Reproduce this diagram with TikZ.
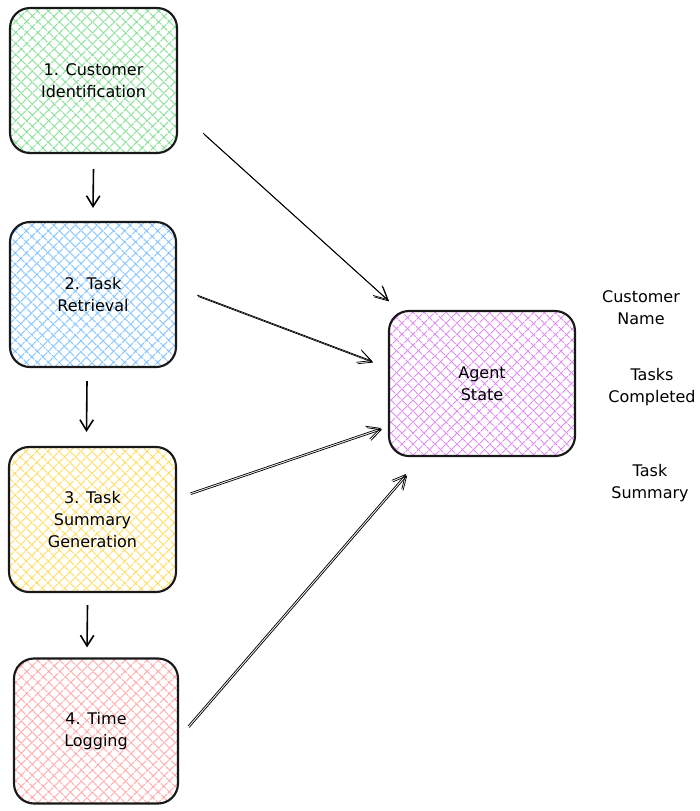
\documentclass[tikz,border=0pt]{standalone}
\usepackage{fontspec}
\setmainfont{DejaVu Sans}
\usetikzlibrary{patterns.meta,arrows.meta}
\definecolor{hgreen}{HTML}{7ADB8A}
\definecolor{hblue}{HTML}{74BCFF}
\definecolor{hyellow}{HTML}{FFD84D}
\definecolor{hpink}{HTML}{FF9E9E}
\definecolor{hpurple}{HTML}{E08CF5}
\tikzset{
  hatchbox/.style={
    rounded corners=15pt, line width=1.6pt, draw=black!90,
    minimum width=#1, minimum height=108.75pt,
    align=center, font=\fontsize{12pt}{16.5pt}\selectfont, inner sep=0pt},
  hatch/.style={
    preaction={pattern={Lines[angle=45,distance=6.5pt,line width=1pt]}, pattern color=#1},
    preaction={pattern={Lines[angle=-45,distance=6.5pt,line width=1pt]}, pattern color=#1}},
  lbl/.style={align=center, font=\fontsize{12pt}{16.5pt}\selectfont, inner sep=0pt},
  down/.style={-{Straight Barb[length=8pt,width=10pt]}, line width=1.2pt},
  sketch/.style={-{Straight Barb[length=10pt,width=10pt]}, line width=0.55pt,
    postaction={draw, line width=0.55pt, transform canvas={shift={(0.9pt,-1.1pt)}}}}
}
\begin{document}
\begin{tikzpicture}[x=0.75pt,y=-0.75pt]
\useasboundingbox (0,0) rectangle (700,811);
\node[hatchbox=125.25pt, hatch=hgreen] (b1) at (93.5,80.5) {1. Customer\\Identification};
\node[hatchbox=124.5pt, hatch=hblue] (b2) at (93,294.5) {2. Task\\Retrieval};
\node[hatchbox=125.25pt, hatch=hyellow] (b3) at (92.5,519.5) {3. Task\\Summary\\Generation};
\node[hatchbox=123pt, hatch=hpink] (b4) at (96,731) {4. Time\\Logging};
\node[hatchbox=139.5pt, hatch=hpurple] (ag) at (482,383.5) {Agent\\State};

\node[lbl] (l1) at (641,308) {Customer\\Name};
\node[lbl] (l2) at (652,387) {Tasks\\Completed};
\node[lbl] (l3) at (650,483) {Task\\Summary};

% vertical arrows
\draw[down] ([shift={(0,15)}]b1.south) -- ([shift={(0,-13)}]b2.north);
\draw[down] ([shift={(-6,13)}]b2.south) -- ([shift={(-6,-14)}]b3.north);
\draw[down] ([shift={(-5,12)}]b3.south) -- ([shift={(-9,-10)}]b4.north);

% diagonal arrows
\coordinate (s1) at (203,133); \coordinate (e1) at (388,300);
\coordinate (s2) at (197,295); \coordinate (e2) at (372,361);
\coordinate (s3) at (190,493); \coordinate (e3) at (381,428);
\coordinate (s4) at (188,726); \coordinate (e4) at (406,474);
\draw[sketch] (s1) -- (e1);
\draw[sketch] (s2) -- (e2);
\draw[sketch] (s3) -- (e3);
\draw[sketch] (s4) -- (e4);
\end{tikzpicture}
\end{document}
